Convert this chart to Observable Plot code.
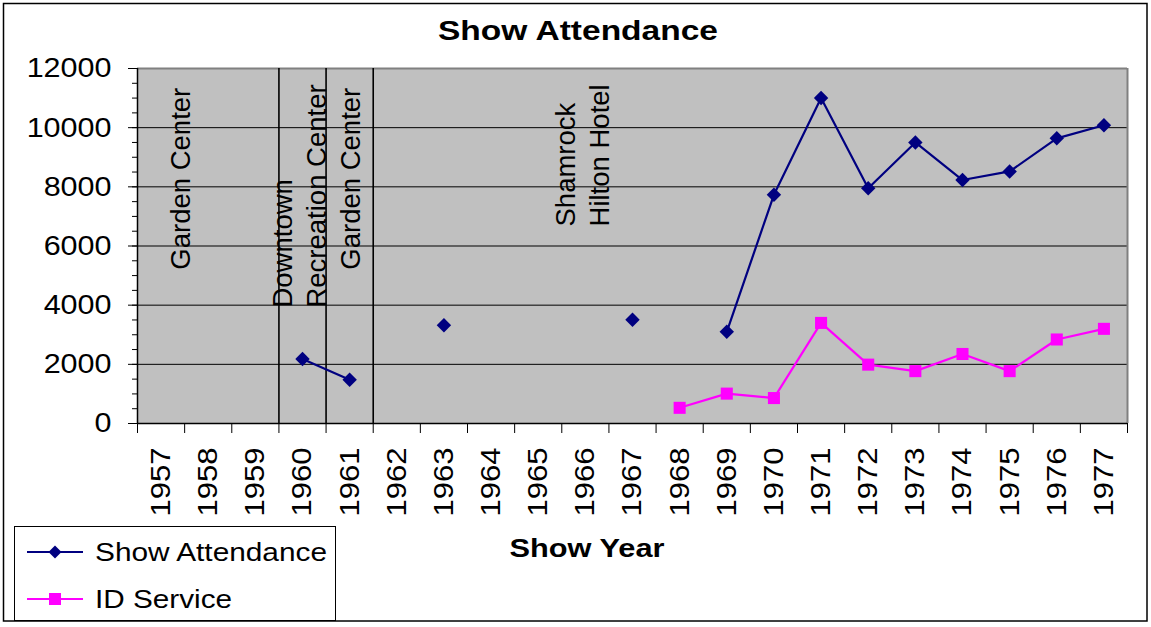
<!DOCTYPE html>
<html>
<head>
<meta charset="utf-8">
<script src="https://cdn.jsdelivr.net/npm/d3@7"></script>
<script src="https://cdn.jsdelivr.net/npm/@observablehq/plot@0.6"></script>
<style>
  html, body { margin: 0; padding: 0; background: #fff; }
  #chart { position: relative; width: 1151px; height: 627px; }
  svg { display: block; }
</style>
</head>
<body>
<div id="chart"></div>
<script>
// ---- data ----
const years = [1957,1958,1959,1960,1961,1962,1963,1964,1965,1966,1967,1968,1969,1970,1971,1972,1973,1974,1975,1976,1977];
const showAttendance = [null,null,null,2180,1480,null,3320,null,null,null,3510,null,3100,7730,11000,7950,9500,8230,8520,9640,10080];
const idService = [null,null,null,null,null,null,null,null,null,null,null,530,1010,860,3400,1990,1770,2350,1770,2840,3200];
const yTicks = [0,2000,4000,6000,8000,10000,12000];
const yMinorTicks = d3.range(0, 12001, 500);
const categoryEdges = d3.range(1956.5, 1978, 1);
const venueBreaks = [1959.5, 1960.5, 1961.5];
const venueLabels = ["Garden Center", "Downtown\nRecreation Center", "Garden Center", "Shamrock\nHilton Hotel"];
const venueLabelYear = [1957.38, 1959.91, 1960.99, 1965.91];
const venueLabelValue = [5200, 3920, 5200, 6660];
const seriesNames = ["Show Attendance", "ID Service"];
const seriesColors = ["#000080", "#ff00ff"];
const titleText = "Show Attendance";
const xTitle = "Show Year";

const attData = years.map((y, i) => ({year: y, value: showAttendance[i]}));
const idData = years.map((y, i) => ({year: y, value: idService[i]}));
const venues = venueLabels.map((t, i) => ({label: t, year: venueLabelYear[i], value: venueLabelValue[i]}));

const FONT = "'Liberation Sans', Arial, Helvetica, sans-serif";

const chart = Plot.plot({
  width: 1151,
  height: 627,
  marginLeft: 137,
  marginRight: 24,
  marginTop: 68,
  marginBottom: 204,
  x: {domain: [1956.5, 1977.5]},
  y: {domain: [0, 12000]},
  style: {fontFamily: FONT, background: "#fff", color: "#000", overflow: "visible"},
  marks: [
    Plot.frame({fill: "#c0c0c0", stroke: null}),
    Plot.ruleY(yTicks.filter(d => d > 0 && d < 12000), {stroke: "#000", strokeWidth: 1}),
    Plot.ruleY([12000], {stroke: "#808080", strokeWidth: 2}),
    Plot.ruleX([1977.5], {stroke: "#808080", strokeWidth: 2}),
    Plot.ruleX(venueBreaks, {stroke: "#000", strokeWidth: 1.6}),
    Plot.ruleY([0], {stroke: "#000", strokeWidth: 1.5}),
    Plot.ruleX([1956.5], {stroke: "#000", strokeWidth: 1.5}),
    Plot.axisY({ticks: yMinorTicks, tickSize: 5, fill: "none", label: null, tickFormat: null}),
    Plot.axisY({ticks: yTicks, tickSize: 9, tickPadding: 17, fontSize: 28, label: null, tickFormat: d => String(d)}),
    Plot.axisX({ticks: categoryEdges, tickSize: 10, fill: "none", label: null}),
    Plot.axisX({ticks: years, tickSize: 0, tickPadding: 24, tickRotate: -90, fontSize: 28, label: null, tickFormat: d => String(d)}),
    Plot.text(venues, {x: "year", y: "value", text: "label", rotate: -90, textAnchor: "start", lineAnchor: "middle", lineHeight: 1.24, fontSize: 27.5, fill: "#000"}),
    Plot.line(attData, {x: "year", y: "value", stroke: seriesColors[0], strokeWidth: 2.2}),
    Plot.dot(attData, {x: "year", y: "value", symbol: "diamond2", r: 6.5, fill: seriesColors[0], stroke: null}),
    Plot.line(idData, {x: "year", y: "value", stroke: seriesColors[1], strokeWidth: 2.2}),
    Plot.dot(idData, {x: "year", y: "value", symbol: "square", r: 6.8, fill: seriesColors[1], stroke: null})
  ]
});

document.getElementById("chart").appendChild(chart);

const svg = d3.select(chart);

// stretch tick labels slightly to match the reference's wide glyphs
svg.selectAll('[aria-label="y-axis tick label"] text').each(function() {
  const t = d3.select(this).text();
  d3.select(this).attr("textLength", t.length * 0.556 * 28 * 1.09).attr("lengthAdjust", "spacingAndGlyphs");
});
svg.selectAll('[aria-label="x-axis tick label"] text').each(function() {
  const t = d3.select(this).text();
  d3.select(this).attr("textLength", t.length * 0.556 * 28 * 1.11).attr("lengthAdjust", "spacingAndGlyphs");
});

// title
svg.append("text")
  .attr("x", 578).attr("y", 40)
  .attr("text-anchor", "middle")
  .attr("font-family", FONT).attr("font-weight", "bold").attr("font-size", 28)
  .attr("textLength", 280).attr("lengthAdjust", "spacingAndGlyphs")
  .attr("fill", "#000")
  .text(titleText);

// x axis title
svg.append("text")
  .attr("x", 587).attr("y", 557)
  .attr("text-anchor", "middle")
  .attr("font-family", FONT).attr("font-weight", "bold").attr("font-size", 26)
  .attr("textLength", 155).attr("lengthAdjust", "spacingAndGlyphs")
  .attr("fill", "#000")
  .text(xTitle);

// legend
const lg = svg.append("g");
lg.append("rect").attr("x", 14.5).attr("y", 526.5).attr("width", 321).attr("height", 94)
  .attr("fill", "#fff").attr("stroke", "#000").attr("stroke-width", 1);
const rowsY = [552, 599];
const textLens = [232, 137];
seriesNames.forEach((name, i) => {
  const y = rowsY[i];
  lg.append("line").attr("x1", 27).attr("x2", 83).attr("y1", y).attr("y2", y)
    .attr("stroke", seriesColors[i]).attr("stroke-width", 2);
  if (i === 0) {
    lg.append("path").attr("d", `M55,${y-6.5}L61.5,${y}L55,${y+6.5}L48.5,${y}Z`).attr("fill", seriesColors[i]);
  } else {
    lg.append("rect").attr("x", 49).attr("y", y - 6).attr("width", 12).attr("height", 12).attr("fill", seriesColors[i]);
  }
  lg.append("text").attr("x", 95).attr("y", y + 9)
    .attr("text-anchor", "start")
    .attr("font-family", FONT).attr("font-size", 26)
    .attr("textLength", textLens[i]).attr("lengthAdjust", "spacingAndGlyphs")
    .attr("fill", "#000").text(name);
});

// outer chart border
svg.append("rect").attr("x", 3.5).attr("y", 3.5).attr("width", 1143.5).attr("height", 617.5)
  .attr("fill", "none").attr("stroke", "#000").attr("stroke-width", 1.5);
</script>
</body>
</html>
